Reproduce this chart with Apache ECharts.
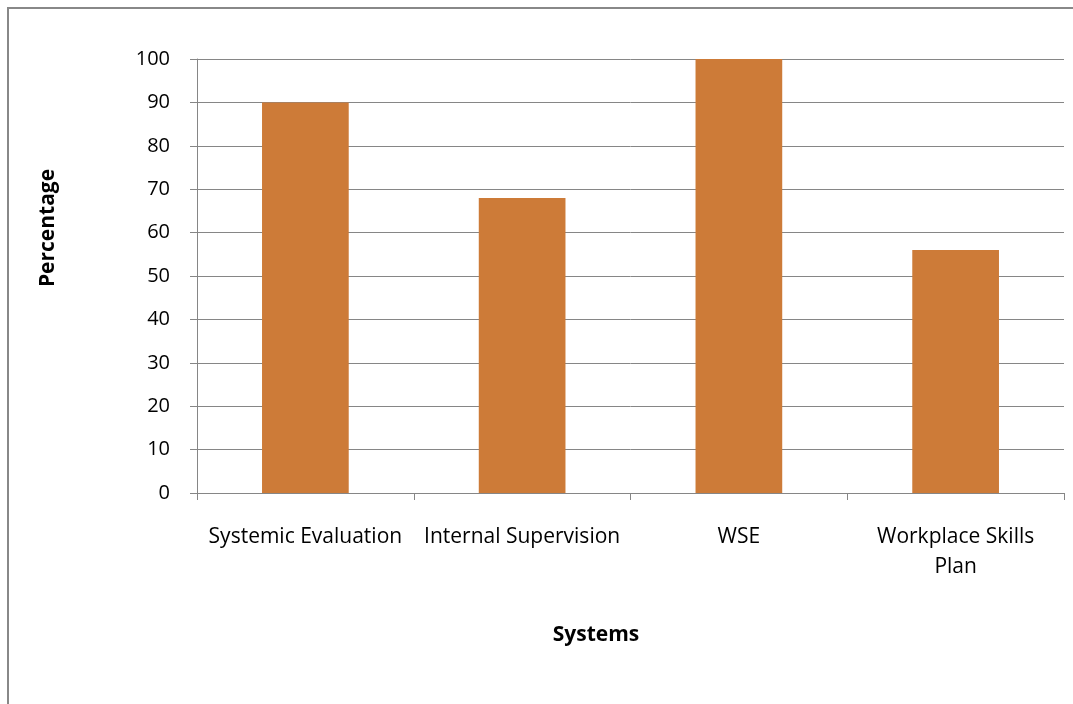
<!DOCTYPE html>
<html>
<head>
<meta charset="utf-8">
<script src="https://cdn.jsdelivr.net/npm/echarts@6/dist/echarts.min.js"></script>
<style>
  html, body { margin: 0; padding: 0; background: #fff; }
  #chart { width: 1073px; height: 704px; }
</style>
</head>
<body>
<div id="chart"></div>
<script>
// Share of schools with each system in place
const categories = ['Systemic Evaluation', 'Internal Supervision', 'WSE', 'Workplace Skills Plan'];
const categoryLabels = ['Systemic Evaluation', 'Internal Supervision', 'WSE', 'Workplace Skills\nPlan'];
const percentages = [90, 68, 100, 56];
const yTicks = { min: 0, max: 100, interval: 10 };

const FONT = '"Open Sans", "Noto Sans", sans-serif';
const chart = echarts.init(document.getElementById('chart'));

chart.setOption({
  animation: false,
  backgroundColor: '#fff',
  grid: { left: 197, right: 9, top: 59, bottom: 211, containLabel: false },
  xAxis: {
    type: 'category',
    data: categories,
    axisLine: { show: true, lineStyle: { color: '#868686', width: 1 } },
    axisTick: { show: true, length: 7, alignWithLabel: false, lineStyle: { color: '#868686' } },
    axisLabel: {
      margin: 29,
      color: '#000',
      fontFamily: FONT,
      fontSize: 21,
      lineHeight: 30,
      interval: 0,
      formatter: (v, i) => categoryLabels[i]
    }
  },
  yAxis: {
    type: 'value',
    min: yTicks.min,
    max: yTicks.max,
    interval: yTicks.interval,
    axisLine: { show: true, lineStyle: { color: '#868686', width: 1 } },
    axisTick: { show: true, length: 7, inside: false, lineStyle: { color: '#868686' } },
    splitLine: { show: true, lineStyle: { color: '#868686', width: 1 } },
    axisLabel: { margin: 27, color: '#000', fontFamily: FONT, fontSize: 20 }
  },
  series: [{
    type: 'bar',
    data: percentages,
    barWidth: '40%',
    itemStyle: { color: '#CD7B38' }
  }],
  graphic: [
    {
      type: 'rect',
      shape: { x: 8, y: 8, width: 1080, height: 720 },
      style: { fill: 'none', stroke: '#888', lineWidth: 2 },
      silent: true
    },
    {
      type: 'text',
      x: 48, y: 228, rotation: Math.PI / 2,
      style: {
        text: 'Percentage', fontFamily: FONT, fontSize: 21, fontWeight: 'bold',
        fill: '#000', align: 'center', verticalAlign: 'middle'
      }
    },
    {
      type: 'text',
      x: 596, y: 635,
      style: {
        text: 'Systems', fontFamily: FONT, fontSize: 21, fontWeight: 'bold',
        fill: '#000', align: 'center', verticalAlign: 'middle'
      }
    }
  ]
});
</script>
</body>
</html>
